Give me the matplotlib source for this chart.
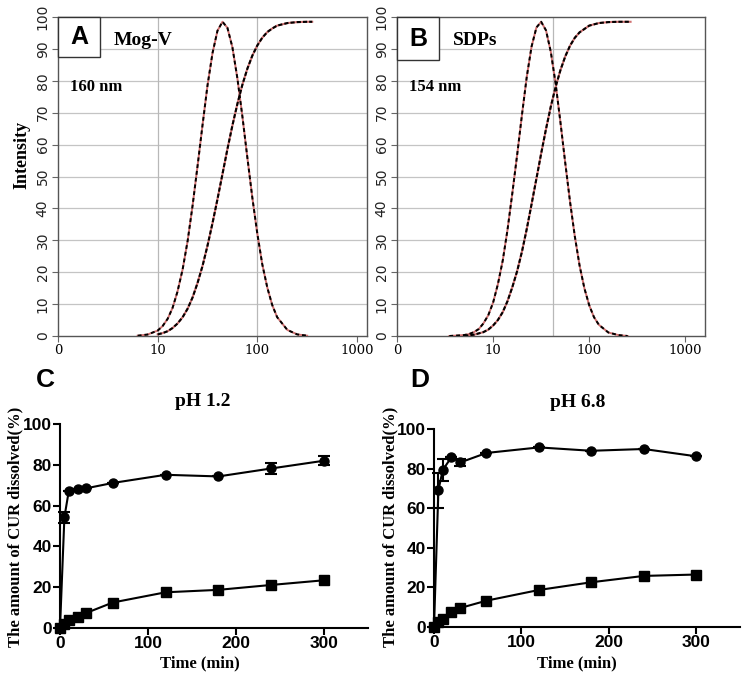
import matplotlib
matplotlib.use("Agg")
import matplotlib.pyplot as plt
from matplotlib.patches import Rectangle

# ---------------- Data ----------------
# Panel A (Mog-V) DLS size distribution (nm vs intensity)
size_A_dist = [6.3, 7.9, 10, 11.2, 12.6, 14.1, 15.8, 17.8, 20.0, 22.4, 25.1, 28.2, 31.6, 35.5,
               39.8, 44.7, 50.1, 56.2, 63.1, 70.8, 79.4, 89.1, 100, 112, 126, 141, 158, 200, 251, 316]
int_A_dist = [0.1, 0.45, 1.7, 3.1, 5.4, 8.8, 13.9, 20.9, 29.9, 40.9, 53.2, 66.2, 78.5, 88.7,
              95.7, 98.5, 96.6, 90.5, 80.7, 68.8, 55.9, 43.3, 32.0, 22.5, 15.1, 9.7, 5.9, 1.9, 0.5, 0.1]
size_A_cum = [10, 11.2, 12.6, 14.1, 15.8, 17.8, 20.0, 22.4, 25.1, 28.2, 31.6, 35.5, 39.8, 44.7,
              50.1, 56.2, 63.1, 70.8, 79.4, 89.1, 100, 112, 126, 141, 158, 200, 251, 316, 355]
int_A_cum = [0.5, 0.9, 1.5, 2.5, 3.9, 5.9, 8.6, 12.1, 16.6, 22.0, 28.3, 35.4, 42.9, 50.8,
             58.6, 66.0, 72.8, 78.8, 83.8, 87.9, 91.1, 93.5, 95.3, 96.4, 97.3, 98.1, 98.4, 98.5, 98.5]

# Panel B (SDPs)
size_B_dist = [3.5, 4.0, 5.0, 5.6, 6.3, 7.1, 7.9, 8.9, 10, 11.2, 12.6, 14.1, 15.8, 17.8, 20.0,
               22.4, 25.1, 28.2, 31.6, 35.5, 39.8, 44.7, 50.1, 56.2, 63.1, 70.8, 79.4, 89.1, 100,
               112, 126, 158, 200, 251]
int_B_dist = [0.0, 0.1, 0.3, 0.6, 1.2, 2.2, 3.9, 6.5, 10.5, 16.2, 23.7, 33.2, 44.5, 56.9, 69.6,
              81.3, 90.7, 96.7, 98.5, 95.8, 89.1, 79.1, 67.1, 54.4, 42.1, 31.2, 22.0, 14.9, 9.6,
              5.9, 3.5, 1.1, 0.3, 0.0]
size_B_cum = [5.0, 6.3, 7.9, 8.9, 10, 11.2, 12.6, 14.1, 15.8, 17.8, 20.0, 22.4, 25.1, 28.2, 31.6,
              35.5, 39.8, 44.7, 50.1, 56.2, 63.1, 70.8, 79.4, 100, 126, 158, 200, 269]
int_B_cum = [0.1, 0.4, 1.2, 2.0, 3.3, 5.0, 7.5, 10.9, 15.2, 20.4, 26.6, 33.6, 41.3, 49.3, 57.2,
             64.9, 71.9, 78.1, 83.3, 87.6, 91.0, 93.5, 95.2, 97.3, 98.1, 98.4, 98.5, 98.5]

# Dissolution data
time_min = [0, 5, 10, 20, 30, 60, 120, 180, 240, 300]
C_circle = [0, 54.3, 67.2, 68.0, 68.5, 71.1, 75.1, 74.3, 78.2, 82.0]
C_circle_err = [0, 2.8, 0, 0, 0, 0, 0, 0, 2.5, 2.3]
C_square = [0, 2.1, 3.8, 5.4, 7.4, 12.5, 17.5, 18.7, 21.1, 23.4]
D_circle = [0, 69.0, 79.3, 85.8, 83.1, 87.9, 90.7, 89.0, 89.9, 86.2]
D_circle_err = [0, 9.0, 5.5, 0, 2.0, 0, 0, 0, 0, 0]
D_square = [0, 2.7, 3.9, 7.4, 9.6, 13.3, 18.7, 22.6, 25.8, 26.5]

size_ticks = [1, 10, 100, 1000]
size_ticklabels = ["0", "10", "100", "1000"]
int_ticks = [0, 10, 20, 30, 40, 50, 60, 70, 80, 90, 100]

W, H = 750, 673
fig = plt.figure(figsize=(W / 100, H / 100), dpi=100)

serif = "Liberation Serif"
sans = "Liberation Sans"


def px_axes(l, r, t, b):
    return fig.add_axes([l / W, 1 - b / H, (r - l) / W, (b - t) / H])


def dls_panel(ax, xmax, sd, idist, sc, icum, vlines, letter, name, size_txt, box_h):
    ax.set_xscale("log")
    ax.set_xlim(1, xmax)
    ax.set_ylim(0, 100)
    for v in int_ticks[1:-1]:
        ax.axhline(v, color="#c4c4c4", lw=0.9, zorder=1)
    for v in vlines:
        ax.axvline(v, color="#b8b8b8", lw=0.9, zorder=1)
    ax.plot(sd, idist, color="#d07070", lw=1.4, zorder=3)
    ax.plot(sd, idist, color="black", lw=1.4, ls=(0, (2, 1.5)), zorder=4)
    ax.plot(sc, icum, color="#d07070", lw=1.5, zorder=3)
    ax.plot(sc, icum, color="black", lw=1.5, ls=(0, (2, 1.0)), zorder=4)
    ax.set_xticks(size_ticks)
    ax.set_xticklabels(size_ticklabels, fontfamily="DejaVu Serif", fontsize=9.5)
    ax.xaxis.set_minor_locator(matplotlib.ticker.NullLocator())
    ax.set_yticks(int_ticks)
    ax.set_yticklabels([str(v) for v in int_ticks], rotation=90, va="center",
                       fontfamily="DejaVu Sans", fontsize=10, color="#222222")
    ax.tick_params(direction="out", length=4, color="#666666", width=0.8, pad=2)
    for s in ax.spines.values():
        s.set_color("#555555")
        s.set_linewidth(1.0)
    ax.add_patch(Rectangle((0, 1 - box_h), 0.136, box_h, transform=ax.transAxes,
                           facecolor="white", edgecolor="#333333", lw=1.0, zorder=6,
                           clip_on=False))
    ax.text(0.068, 1 - box_h / 2, letter, transform=ax.transAxes, ha="center", va="center",
            fontfamily=sans, fontweight="bold", fontsize=18, zorder=7)
    ax.text(0.18, 0.925, name, transform=ax.transAxes, ha="left", va="center",
            fontfamily=serif, fontweight="bold", fontsize=14, zorder=7)
    ax.text(0.04, 0.78, size_txt, transform=ax.transAxes, ha="left", va="center",
            fontfamily=serif, fontweight="bold", fontsize=12, zorder=7)


axA = px_axes(58, 367, 17, 336)
dls_panel(axA, 1259, size_A_dist, int_A_dist, size_A_cum, int_A_cum, [10, 100],
          "A", "Mog-V", "160 nm", 0.125)
axB = px_axes(397, 705, 17, 336)
dls_panel(axB, 1600, size_B_dist, int_B_dist, size_B_cum, int_B_cum, [42],
          "B", "SDPs", "154 nm", 0.135)
fig.text(22 / W, 1 - 155 / H, "Intensity", rotation=90, ha="center", va="center",
         fontfamily=serif, fontweight="bold", fontsize=13)


def diss_panel(ax, circ, cerr, sq, letter, title, lx, ly, tx, ty):
    ax.set_xlim(0, 350)
    ax.set_ylim(0, 100)
    ax.errorbar(time_min, circ, yerr=cerr, color="black", marker="o", ms=6.5, lw=1.5,
                capsize=4, elinewidth=1.5, capthick=1.5, clip_on=False, zorder=4)
    ax.plot(time_min, sq, color="black", marker="s", ms=6.5, lw=1.5, clip_on=False, zorder=4)
    for s in ["top", "right"]:
        ax.spines[s].set_visible(False)
    for s in ["left", "bottom"]:
        ax.spines[s].set_linewidth(1.5)
    ax.set_xticks([0, 100, 200, 300])
    ax.set_yticks([0, 20, 40, 60, 80, 100])
    ax.tick_params(direction="out", length=5, width=1.5, pad=1)
    for lab in ax.get_xticklabels() + ax.get_yticklabels():
        lab.set_fontfamily(sans)
        lab.set_fontweight("bold")
        lab.set_fontsize(12.5)
    ax.text(lx, ly, letter, transform=ax.transAxes, ha="center", va="center",
            fontfamily=sans, fontweight="bold", fontsize=19)
    ax.text(tx, ty, title, transform=ax.transAxes, ha="center", va="center",
            fontfamily=serif, fontweight="bold", fontsize=14)


axC = px_axes(60, 368, 424, 628)
diss_panel(axC, C_circle, C_circle_err, C_square, "C", "pH 1.2", -0.049, 1.216, 0.464, 1.108)
axD = px_axes(434, 740, 429, 627)
diss_panel(axD, D_circle, D_circle_err, D_square, "D", "pH 6.8", -0.046, 1.247, 0.47, 1.136)

for x in (15, 390):
    fig.text(x / W, 1 - 527 / H, "The amount of CUR dissolved(%)", rotation=90,
             ha="center", va="center", fontfamily=serif, fontweight="bold", fontsize=12)
for x in (200, 577):
    fig.text(x / W, 1 - 663 / H, "Time (min)", ha="center", va="center",
             fontfamily=serif, fontweight="bold", fontsize=12)

fig.savefig("out.png", dpi=100)
